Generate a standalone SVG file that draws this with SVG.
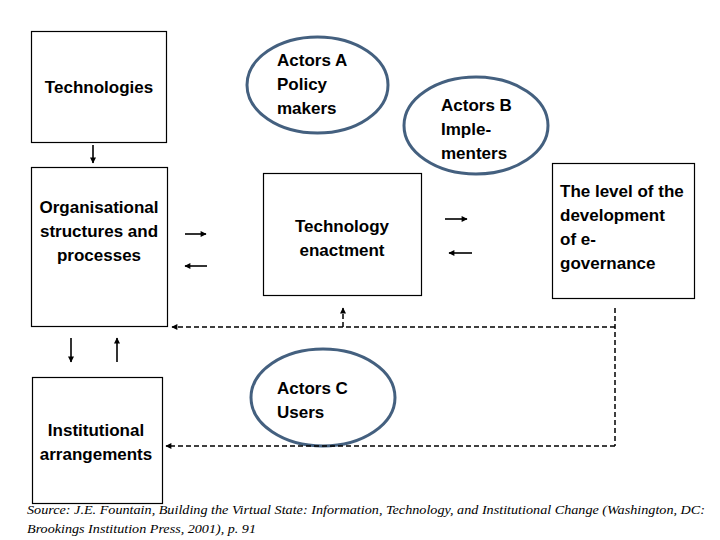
<svg xmlns="http://www.w3.org/2000/svg" width="720" height="540" viewBox="0 0 720 540">
<defs>
<marker id="ah" viewBox="0 0 10 10" refX="9" refY="5" markerWidth="7" markerHeight="6" markerUnits="userSpaceOnUse" orient="auto">
<path d="M0,0 L10,5 L0,10 z" fill="#000"/>
</marker>
<style>
.box{fill:#fff;stroke:#000;stroke-width:1.2}
.ell{fill:#fff;stroke:#44607f;stroke-width:3}
.t{font-family:"Liberation Sans",Arial,sans-serif;font-size:17px;font-weight:bold;fill:#000}
.c{text-anchor:middle}
.ln{stroke:#000;stroke-width:1.6;fill:none}
.ds{stroke:#000;stroke-width:1.5;fill:none;stroke-dasharray:5,3}
.src{font-family:"Liberation Serif","Times New Roman",serif;font-style:italic;font-size:13px;fill:#000}
</style>
</defs>
<rect width="720" height="540" fill="#fff"/>
<g id="technologies">
<rect class="box" x="31.5" y="31.5" width="135" height="111"/>
<text class="t c" x="99" y="93">Technologies</text>
</g>
<g id="organisational">
<rect class="box" x="31.5" y="167.5" width="136" height="159"/>
<text class="t c" x="99" y="213">Organisational</text>
<text class="t c" x="99" y="237">structures and</text>
<text class="t c" x="99" y="261">processes</text>
</g>
<g id="institutional">
<rect class="box" x="32.5" y="377.5" width="130" height="126"/>
<text class="t c" x="96" y="436">Institutional</text>
<text class="t c" x="96" y="460">arrangements</text>
</g>
<g id="actorsA">
<ellipse class="ell" cx="317.5" cy="85" rx="70.5" ry="48"/>
<text class="t" x="277" y="66">Actors A</text>
<text class="t" x="277" y="90">Policy</text>
<text class="t" x="277" y="114">makers</text>
</g>
<g id="actorsB">
<ellipse class="ell" cx="476" cy="125.5" rx="72" ry="48.5"/>
<text class="t" x="441" y="111">Actors B</text>
<text class="t" x="441" y="135">Imple-</text>
<text class="t" x="441" y="159">menters</text>
</g>
<g id="enactment">
<rect class="box" x="263.5" y="173.5" width="158" height="122"/>
<text class="t c" x="342" y="232">Technology</text>
<text class="t c" x="342" y="256">enactment</text>
</g>
<g id="level">
<rect class="box" x="552.5" y="163.5" width="142" height="135"/>
<text class="t" x="560" y="197">The level of the</text>
<text class="t" x="560" y="221">development</text>
<text class="t" x="560" y="245">of e-</text>
<text class="t" x="560" y="269">governance</text>
</g>
<g id="actorsC">
<ellipse class="ell" cx="323" cy="397.5" rx="72" ry="48.5"/>
<text class="t" x="277" y="394">Actors C</text>
<text class="t" x="277" y="418">Users</text>
</g>
<g id="connectors">
<line class="ln" x1="93" y1="145" x2="93" y2="163" marker-end="url(#ah)"/>
<line class="ln" x1="71" y1="338" x2="71" y2="362" marker-end="url(#ah)"/>
<line class="ln" x1="117" y1="362" x2="117" y2="338" marker-end="url(#ah)"/>
<line class="ln" x1="185" y1="234" x2="206" y2="234" marker-end="url(#ah)"/>
<line class="ln" x1="207" y1="266" x2="185" y2="266" marker-end="url(#ah)"/>
<line class="ln" x1="445" y1="219" x2="467" y2="219" marker-end="url(#ah)"/>
<line class="ln" x1="472" y1="253" x2="449" y2="253" marker-end="url(#ah)"/>
<line class="ds" x1="615" y1="308" x2="615" y2="446"/>
<line class="ds" x1="615" y1="327" x2="172" y2="327" marker-end="url(#ah)"/>
<line class="ds" x1="343" y1="327" x2="343" y2="308" marker-end="url(#ah)"/>
<line class="ds" x1="615" y1="446" x2="166" y2="446" marker-end="url(#ah)"/>
</g>
<g id="source">
<text class="src" x="27" y="514" textLength="678" lengthAdjust="spacingAndGlyphs">Source: J.E. Fountain, Building the Virtual State: Information, Technology, and Institutional Change (Washington, DC:</text>
<text class="src" x="27" y="533" textLength="229" lengthAdjust="spacingAndGlyphs">Brookings Institution Press, 2001), p. 91</text>
</g>
</svg>
